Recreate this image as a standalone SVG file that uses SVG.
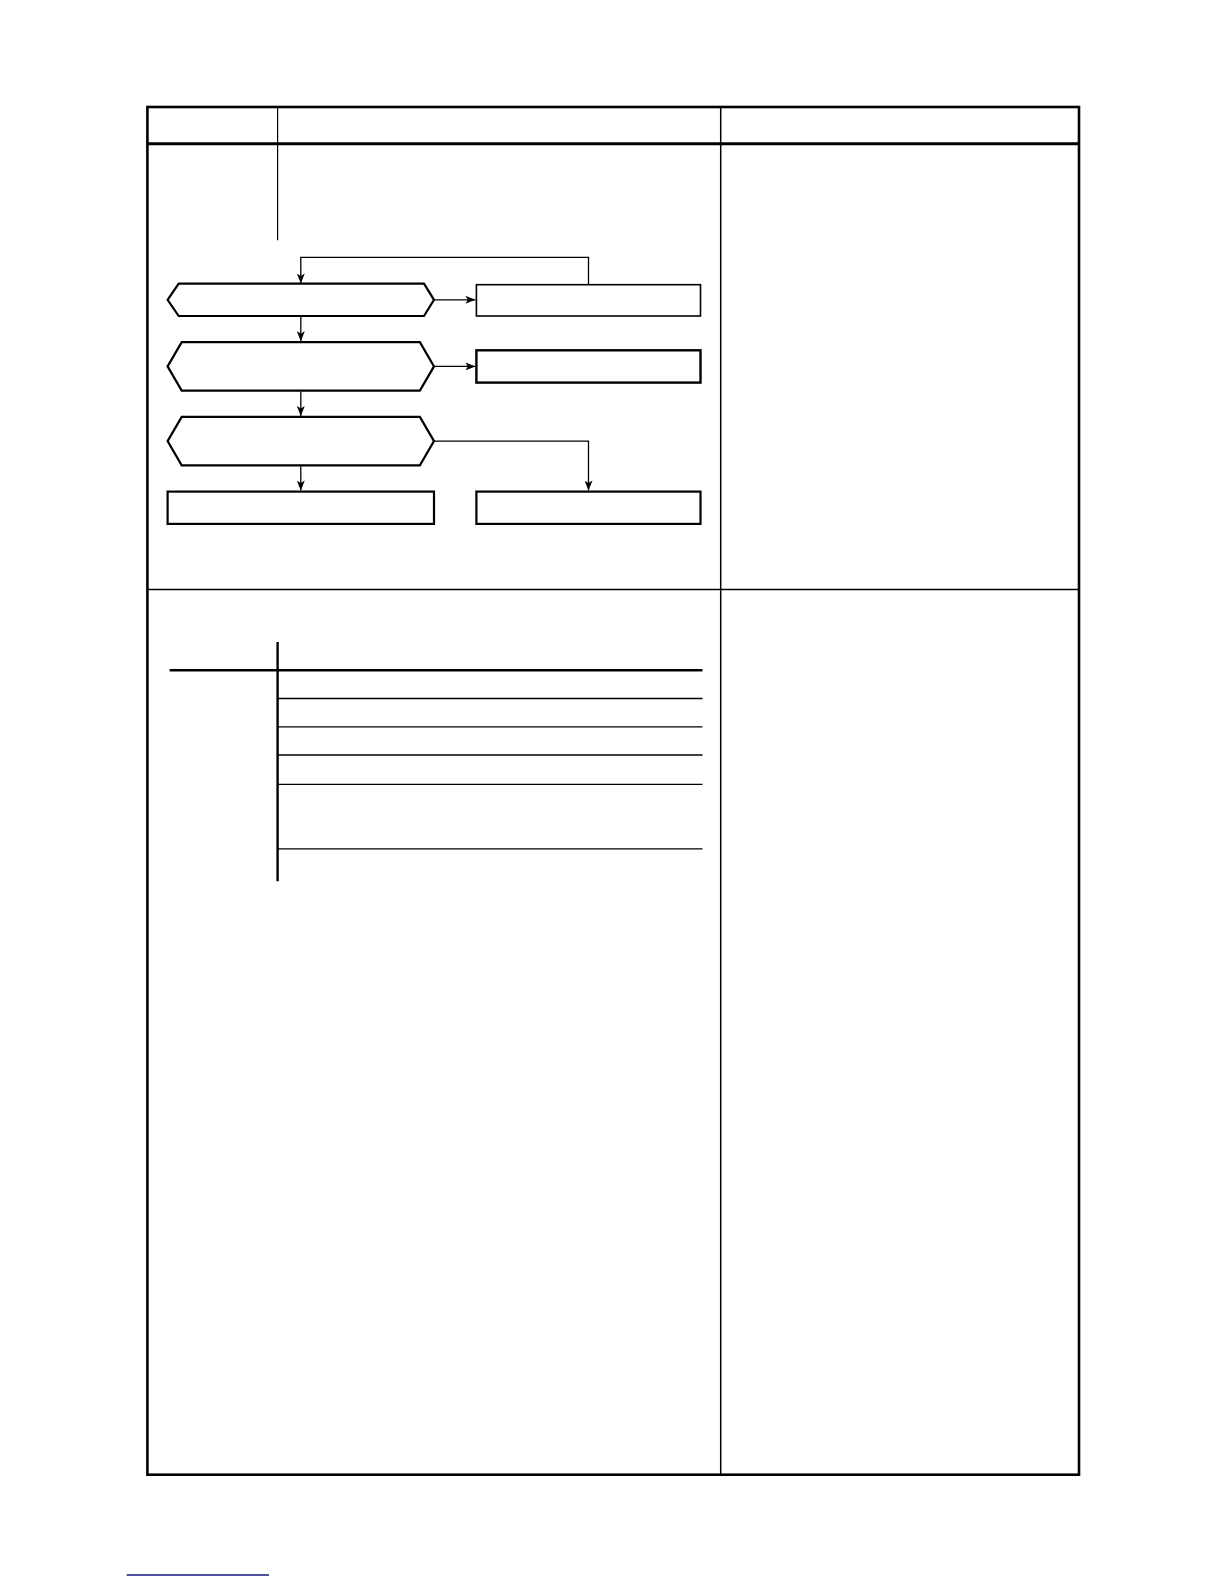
<svg xmlns="http://www.w3.org/2000/svg" width="1224" height="1584" viewBox="0 0 1224 1584">
<style>
.thick{stroke:#000;stroke-width:2.6;fill:none}
.hex{stroke:#000;stroke-width:2.2;fill:#fff;stroke-linejoin:miter}
.box{stroke:#000;fill:#fff}
.conn{stroke:#000;stroke-width:1.3;fill:none}
</style>
<defs>
<marker id="arr" viewBox="0 0 10 8" refX="10" refY="4" markerWidth="11" markerHeight="8" markerUnits="userSpaceOnUse" orient="auto">
<path d="M0,0 L10,4 L0,8 L2.5,4 Z" fill="#000"/>
</marker>
</defs>
<rect width="1224" height="1584" fill="#fff"/>
<g id="frame">
<rect x="147.4" y="107" width="931.6" height="1367.7" class="thick"/>
<line x1="147.4" y1="143.8" x2="1079" y2="143.8" stroke="#000" stroke-width="3"/>
<line x1="277.6" y1="107" x2="277.6" y2="240.2" stroke="#000" stroke-width="1.2"/>
<line x1="720.7" y1="107" x2="720.7" y2="1474.7" stroke="#000" stroke-width="1.5"/>
<line x1="147.4" y1="589.5" x2="1079" y2="589.5" stroke="#000" stroke-width="1.5"/>
</g>
<g id="connectors">
<polyline points="588.5,284.7 588.5,257.4 300.8,257.4 300.8,283.6" class="conn" marker-end="url(#arr)"/>
<line x1="434" y1="299.8" x2="475.4" y2="299.8" class="conn" marker-end="url(#arr)"/>
<line x1="300.8" y1="317" x2="300.8" y2="341.2" class="conn" marker-end="url(#arr)"/>
<line x1="434" y1="366.4" x2="475.4" y2="366.4" class="conn" marker-end="url(#arr)"/>
<line x1="300.8" y1="391.6" x2="300.8" y2="415.9" class="conn" marker-end="url(#arr)"/>
<polyline points="434,441.1 588.5,441.1 588.5,490.6" class="conn" marker-end="url(#arr)"/>
<line x1="300.8" y1="466.3" x2="300.8" y2="490.6" class="conn" marker-end="url(#arr)"/>
</g>
<g id="node-d1"><polygon points="167.6,299.8 178.7,283.6 424,283.6 434,299.8 424,316 178.7,316" class="hex"/></g>
<g id="node-r1"><rect x="476.4" y="284.7" width="224.1" height="31.3" class="box" stroke-width="1.6"/></g>
<g id="node-d2"><polygon points="167.6,366.4 181.7,342.2 419.9,342.2 434,366.4 419.9,390.6 181.7,390.6" class="hex"/></g>
<g id="node-r2"><rect x="476.4" y="350.3" width="224.1" height="32.3" class="box" stroke-width="2.4"/></g>
<g id="node-d3"><polygon points="167.6,441.1 181.7,416.9 419.9,416.9 434,441.1 419.9,465.3 181.7,465.3" class="hex"/></g>
<g id="node-r3"><rect x="167.6" y="491.6" width="266.4" height="32.3" class="box" stroke-width="2.2"/></g>
<g id="node-r4"><rect x="476.4" y="491.6" width="224.1" height="32.3" class="box" stroke-width="2.2"/></g>
<g id="table">
<line x1="277.6" y1="642" x2="277.6" y2="881.2" stroke="#000" stroke-width="2.4"/>
<line x1="169.6" y1="670.2" x2="702.5" y2="670.2" stroke="#000" stroke-width="2.4"/>
<line x1="277.6" y1="698.5" x2="702.5" y2="698.5" stroke="#000" stroke-width="1.3"/>
<line x1="277.6" y1="726.8" x2="702.5" y2="726.8" stroke="#000" stroke-width="1.3"/>
<line x1="277.6" y1="755" x2="702.5" y2="755" stroke="#000" stroke-width="1.3"/>
<line x1="277.6" y1="784.3" x2="702.5" y2="784.3" stroke="#000" stroke-width="1.3"/>
<line x1="277.6" y1="848.9" x2="702.5" y2="848.9" stroke="#000" stroke-width="1.3"/>
</g>
<line x1="126.7" y1="1575" x2="269" y2="1575" stroke="#16167a" stroke-width="1.4"/>
</svg>
